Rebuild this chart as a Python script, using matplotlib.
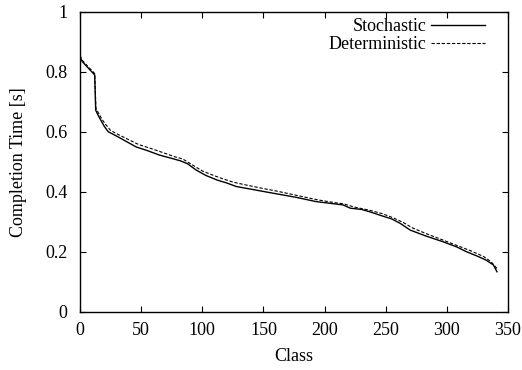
import matplotlib
matplotlib.use("Agg")
from matplotlib import pyplot as plt

# values (class index -> completion time)
stoch_x = [0, 2, 7, 12, 12.8, 14.4, 17.7, 20, 23, 31, 38, 46, 55, 65, 75, 82, 88, 95,
           103, 112, 120, 128, 139, 155, 166, 177, 193, 205, 215, 221, 230, 237, 245,
           255, 262, 270, 283, 297, 308, 316, 325, 332, 338, 341]
stoch_y = [0.849, 0.834, 0.812, 0.790, 0.673, 0.659, 0.634, 0.618, 0.601, 0.584, 0.568,
           0.550, 0.538, 0.523, 0.512, 0.504, 0.494, 0.473, 0.455, 0.440, 0.430, 0.418,
           0.410, 0.398, 0.390, 0.382, 0.368, 0.362, 0.357, 0.346, 0.342, 0.334, 0.323,
           0.310, 0.295, 0.273, 0.253, 0.234, 0.217, 0.201, 0.186, 0.173, 0.157, 0.134]

det_x = [0, 2, 7, 12, 13, 15, 18, 21, 25, 32, 40, 48, 58, 68, 77, 84, 92, 100, 108,
         116, 125, 135, 148, 162, 178, 194, 206, 216, 224, 236, 247, 256, 264, 272,
         285, 298, 310, 320, 330, 336, 341]
det_y = [0.855, 0.838, 0.816, 0.795, 0.680, 0.664, 0.642, 0.625, 0.605, 0.590, 0.574,
         0.558, 0.545, 0.531, 0.518, 0.510, 0.490, 0.470, 0.457, 0.445, 0.433, 0.424,
         0.413, 0.402, 0.388, 0.374, 0.366, 0.360, 0.350, 0.340, 0.328, 0.314, 0.299,
         0.280, 0.258, 0.238, 0.219, 0.203, 0.185, 0.168, 0.145]

x_ticks = [0, 50, 100, 150, 200, 250, 300, 350]
y_ticks = [0, 0.2, 0.4, 0.6, 0.8, 1]

plt.rcParams['font.family'] = ['Liberation Serif', 'DejaVu Serif']
plt.rcParams['font.size'] = 13

fig = plt.figure(figsize=(5.22, 3.70), dpi=100)
ax = fig.add_axes([0.1533, 0.1568, 0.8199, 0.8108])

ax.plot(stoch_x, stoch_y, color='black', linewidth=1.0, label='Stochastic')
ax.plot(det_x, det_y, color='black', linewidth=0.8, linestyle=(0, (3, 1.6)),
        label='Deterministic')

ax.set_xlim(0, 350)
ax.set_ylim(0, 1)
ax.set_xticks(x_ticks)
ax.set_yticks(y_ticks)
ax.set_yticklabels(['%g' % v for v in y_ticks])
ax.tick_params(direction='in', length=4.5, width=0.8, top=True, right=True, pad=7)
ax.tick_params(axis='y', pad=9)
for s in ax.spines.values():
    s.set_linewidth(1.0)

ax.set_xlabel('Class', labelpad=7)
ax.set_ylabel('Completion Time [s]', labelpad=13)

ax.legend(loc='upper right', bbox_to_anchor=(0.964, 1.003), frameon=False,
          markerfirst=False, handlelength=3.0, handletextpad=0.25, labelspacing=0.05,
          borderaxespad=0)

fig.savefig('out.png', dpi=100)
